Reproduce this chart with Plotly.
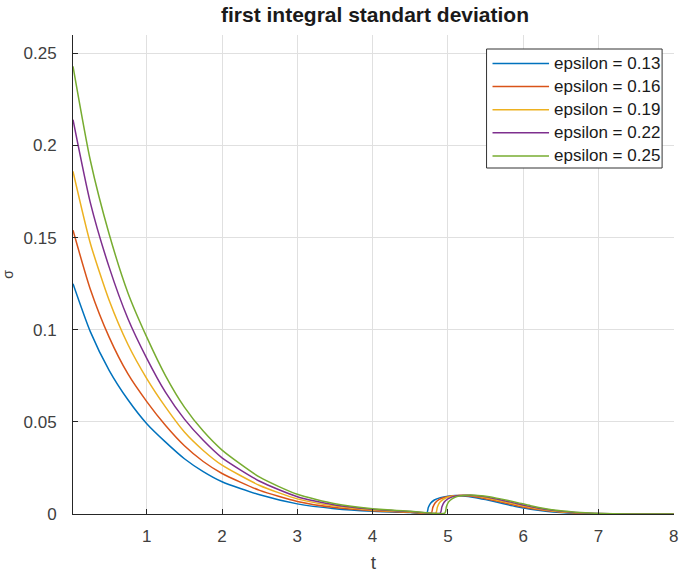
import plotly.graph_objects as go

# Decay phase, shared time grid
t_decay = [0.02, 0.25, 0.5, 0.75, 1.0, 1.25, 1.5, 1.75, 2.0, 2.5, 3.0, 3.5, 4.0, 4.5]

decay_013 = [0.125, 0.099, 0.078, 0.062, 0.049, 0.039, 0.030, 0.023, 0.0175, 0.0104, 0.0055, 0.0029, 0.0015, 0.0008]
decay_016 = [0.154, 0.122, 0.096, 0.076, 0.061, 0.048, 0.037, 0.0285, 0.022, 0.0128, 0.0068, 0.0035, 0.0018, 0.0009]
decay_019 = [0.186, 0.147, 0.116, 0.092, 0.0735, 0.058, 0.0445, 0.0345, 0.0265, 0.0155, 0.0082, 0.0043, 0.0022, 0.0011]
decay_022 = [0.214, 0.169, 0.134, 0.106, 0.0845, 0.066, 0.0515, 0.040, 0.0305, 0.0178, 0.0094, 0.0049, 0.0026, 0.0013]
decay_025 = [0.243, 0.192, 0.152, 0.120, 0.096, 0.075, 0.058, 0.045, 0.0347, 0.020, 0.0107, 0.0056, 0.0029, 0.0015]

# Second bump, each series with its own time samples
bump_t_013 = [4.72, 4.74, 4.77, 4.82, 4.9, 5.0, 5.1, 5.2, 5.35, 5.5, 5.7, 5.9, 6.1, 6.3, 6.5, 6.75, 7.0, 7.5, 8.0]
bump_v_013 = [0.0005, 0.0035, 0.0058, 0.0076, 0.0089, 0.0097, 0.0100, 0.0098, 0.0090, 0.0078, 0.0060, 0.0041, 0.0026, 0.0015, 0.0008, 0.0003, 0.0001, 0.00002, 0.0]
bump_t_016 = [4.78, 4.80, 4.83, 4.88, 4.95, 5.05, 5.15, 5.25, 5.4, 5.55, 5.75, 5.95, 6.15, 6.35, 6.55, 6.8, 7.05, 7.5, 8.0]
bump_v_016 = [0.0005, 0.0036, 0.0060, 0.0078, 0.0090, 0.0098, 0.0101, 0.0099, 0.0091, 0.0079, 0.0061, 0.0042, 0.0027, 0.0016, 0.0009, 0.0003, 0.0001, 0.00003, 0.0]
bump_t_019 = [4.84, 4.86, 4.89, 4.94, 5.01, 5.1, 5.2, 5.3, 5.45, 5.6, 5.8, 6.0, 6.2, 6.4, 6.6, 6.85, 7.1, 7.55, 8.0]
bump_v_019 = [0.0005, 0.0037, 0.0062, 0.0080, 0.0092, 0.0099, 0.0102, 0.0100, 0.0092, 0.0080, 0.0062, 0.0043, 0.0028, 0.0016, 0.0009, 0.0003, 0.0001, 0.00003, 0.0]
bump_t_022 = [4.90, 4.92, 4.95, 5.0, 5.06, 5.15, 5.25, 5.35, 5.5, 5.65, 5.85, 6.05, 6.25, 6.45, 6.65, 6.9, 7.15, 7.6, 8.0]
bump_v_022 = [0.0005, 0.0038, 0.0064, 0.0082, 0.0093, 0.0100, 0.0102, 0.0100, 0.0093, 0.0081, 0.0063, 0.0044, 0.0028, 0.0017, 0.0009, 0.0004, 0.0001, 0.00003, 0.0]
bump_t_025 = [4.96, 4.98, 5.01, 5.06, 5.12, 5.2, 5.3, 5.4, 5.55, 5.7, 5.9, 6.1, 6.3, 6.5, 6.7, 6.95, 7.2, 7.65, 8.0]
bump_v_025 = [0.0005, 0.0039, 0.0066, 0.0084, 0.0095, 0.0101, 0.0103, 0.0101, 0.0094, 0.0082, 0.0064, 0.0045, 0.0029, 0.0017, 0.0010, 0.0004, 0.0001, 0.00003, 0.0]

labels = ["epsilon = 0.13", "epsilon = 0.16", "epsilon = 0.19", "epsilon = 0.22", "epsilon = 0.25"]
colors = ["#0072BD", "#D95319", "#EDB120", "#7E2F8E", "#77AC30"]

series = [
    (decay_013, bump_t_013, bump_v_013),
    (decay_016, bump_t_016, bump_v_016),
    (decay_019, bump_t_019, bump_v_019),
    (decay_022, bump_t_022, bump_v_022),
    (decay_025, bump_t_025, bump_v_025),
]

x_ticks = [1, 2, 3, 4, 5, 6, 7, 8]
x_ticktext = ["1", "2", "3", "4", "5", "6", "7", "8"]
y_ticks = [0, 0.05, 0.1, 0.15, 0.2, 0.25]
y_ticktext = ["0", "0.05", "0.1", "0.15", "0.2", "0.25"]

FONT = "Liberation Sans, Arial, sans-serif"
INK = "#404040"

W, H = 682, 576
ML, MR, MT, MB = 72, 4, 35, 62
PW, PH = W - ML - MR, H - MT - MB


def px_x(px):
    """Page pixel column -> paper x."""
    return (px - ML) / PW


def px_y(py):
    """Page pixel row -> paper y."""
    return (H - MB - py) / PH


fig = go.Figure()
for i, (dec, bt, bv) in enumerate(series):
    fig.add_trace(go.Scatter(
        x=t_decay + bt,
        y=dec + bv,
        mode="lines",
        name=labels[i],
        showlegend=False,
        line=dict(color=colors[i], width=1.5, shape="spline", smoothing=0.6),
    ))

# Boxed legend in the upper right corner
box_l, box_r, box_t, box_b = 489, 666, 49, 168
row0, row_step = 63.5, 23.1
line_l, line_r, text_l = 495, 552, 555

shapes = [dict(
    type="rect", xref="paper", yref="paper", layer="above",
    x0=px_x(box_l), x1=px_x(box_r), y0=px_y(box_b), y1=px_y(box_t),
    line=dict(color="#333333", width=1), fillcolor="white",
)]
annotations = []
for i, name in enumerate(labels):
    ry = row0 + i * row_step
    shapes.append(dict(
        type="line", xref="paper", yref="paper", layer="above",
        x0=px_x(line_l), x1=px_x(line_r), y0=px_y(ry), y1=px_y(ry),
        line=dict(color=colors[i], width=1.5),
    ))
    annotations.append(dict(
        text=name, xref="paper", yref="paper",
        x=px_x(text_l), y=px_y(ry), xanchor="left", yanchor="middle",
        showarrow=False, font=dict(family=FONT, size=17, color="#1a1a1a"),
    ))

fig.update_layout(
    width=W,
    height=H,
    margin=dict(l=ML, r=MR, t=MT, b=MB),
    paper_bgcolor="white",
    plot_bgcolor="white",
    font=dict(family=FONT, color=INK, size=16),
    title=dict(
        text="<b>first integral standart deviation</b>",
        x=(ML + W - MR) / 2 / W,
        xanchor="center",
        y=1 - 15 / H,
        yanchor="middle",
        font=dict(family=FONT, size=21, color="#1a1a1a"),
    ),
    showlegend=False,
    shapes=shapes,
    annotations=annotations,
    xaxis=dict(
        range=[0.02, 8.004],
        tickvals=x_ticks,
        ticktext=x_ticktext,
        ticks="inside",
        ticklen=5,
        tickcolor="#262626",
        showline=True,
        linecolor="#262626",
        linewidth=1,
        showgrid=True,
        gridcolor="#e0e0e0",
        zeroline=False,
        ticklabelstandoff=7,
        ticklabeloverflow="allow",
        tickfont=dict(size=17),
        title=dict(text="t", font=dict(family=FONT, size=19, color=INK), standoff=10),
    ),
    yaxis=dict(
        range=[0, 0.26],
        tickvals=y_ticks,
        ticktext=y_ticktext,
        ticks="inside",
        ticklen=5,
        tickcolor="#262626",
        showline=True,
        linecolor="#262626",
        linewidth=1,
        showgrid=True,
        gridcolor="#e0e0e0",
        zeroline=False,
        ticklabelstandoff=12,
        tickfont=dict(size=17),
        title=dict(text="σ", font=dict(family=FONT, size=14, color=INK), standoff=10),
    ),
)

fig.write_html("out.html")
